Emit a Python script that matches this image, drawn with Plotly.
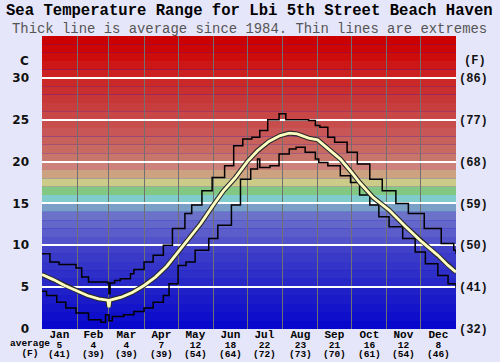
import plotly.graph_objects as go

# ---------------- data ----------------
months = ["Jan", "Feb", "Mar", "Apr", "May", "Jun", "Jul", "Aug", "Sep", "Oct", "Nov", "Dec"]
month_days = [31, 28, 31, 30, 31, 30, 31, 31, 30, 31, 30, 31]
month_avg_c = ["5", "4", "4", "7", "12", "18", "22", "23", "21", "16", "12", "8"]
month_avg_f = ["(41)", "(39)", "(39)", "(39)", "(54)", "(64)", "(72)", "(73)", "(70)", "(61)", "(54)", "(46)"]

c_ticks = [0, 5, 10, 15, 20, 25, 30]
f_ticks = ["(32)", "(41)", "(50)", "(59)", "(68)", "(77)", "(86)"]

avg_day = [0, 10, 20, 31, 40, 50, 58, 59, 60, 70, 80, 90, 100, 110, 120, 130, 140, 151, 160, 170,
           181, 190, 200, 210, 218, 225, 235, 243, 250, 263, 273, 280, 292, 306, 320, 335, 349, 358, 365]
avg_temp = [6.5, 5.9, 5.2, 4.5, 4.0, 3.6, 3.45, 2.6, 3.45, 3.8, 4.4, 5.2, 6.2, 7.5, 9.2, 10.9, 12.6, 14.8, 16.5, 18.0,
            20.0, 21.3, 22.4, 23.1, 23.4, 23.3, 22.8, 22.6, 21.8, 20.3, 18.7, 17.5, 15.7, 14.2, 12.3, 10.4, 8.8, 7.6, 6.8]

max_day = [0, 7, 15, 30, 35, 41, 52, 58, 59, 60, 64, 69, 78, 81, 90, 98, 107, 115, 126, 132, 141, 150, 161,
           169, 177, 185, 192, 199, 209, 215, 235, 241, 245, 252, 258, 269, 278, 289, 300, 312, 323, 337, 352, 363, 365]
max_temp = [9.0, 8.0, 7.7, 7.3, 6.2, 5.6, 5.6, 5.5, 4.2, 5.5, 5.8, 6.0, 6.6, 7.1, 8.0, 8.8, 10.0, 12.0, 13.8, 14.8, 16.5, 18.1, 19.5,
            21.9, 22.7, 22.9, 23.7, 25.0, 25.7, 25.0, 24.9, 24.3, 24.1, 22.9, 22.3, 21.1, 19.7, 17.9, 16.5, 15.0, 13.8, 12.0, 10.2, 9.4, 9.0]

min_day = [0, 4, 13, 21, 30, 41, 52, 56, 59, 62, 72, 81, 90, 98, 107, 112, 120, 127, 135, 147, 155, 167, 175,
           184, 190, 192, 201, 209, 218, 224, 232, 241, 244, 252, 263, 272, 280, 289, 297, 306, 318, 329, 338, 349, 358, 365]
min_temp = [4.5, 4.0, 3.2, 2.5, 1.9, 1.1, 0.8, 1.7, 1.0, 1.5, 1.7, 2.1, 2.5, 3.2, 4.0, 5.4, 7.6, 8.0, 9.4, 10.8, 12.4, 14.8, 17.9,
            19.1, 20.3, 19.3, 19.5, 20.9, 21.5, 21.7, 21.1, 20.3, 19.9, 19.5, 18.3, 17.5, 16.0, 14.8, 13.4, 12.2, 10.8, 9.2, 7.8, 6.4, 5.4, 4.9]

# one background colour per 1 degree C band (0-1, 1-2, ...)
band_colors = [
    "rgb(8,8,205)", "rgb(14,14,203)", "rgb(20,20,202)", "rgb(26,26,201)", "rgb(32,32,200)",
    "rgb(40,40,200)", "rgb(46,46,200)", "rgb(52,52,200)", "rgb(58,58,200)", "rgb(64,64,200)",
    "rgb(82,82,202)", "rgb(92,92,202)", "rgb(100,102,202)", "rgb(108,114,202)", "rgb(122,160,200)",
    "rgb(128,204,204)", "rgb(130,200,130)", "rgb(204,204,136)", "rgb(204,162,128)", "rgb(204,130,122)",
    "rgb(200,118,108)", "rgb(200,106,98)", "rgb(200,96,92)", "rgb(200,86,86)", "rgb(200,78,78)",
    "rgb(200,70,70)", "rgb(200,62,62)", "rgb(200,55,55)", "rgb(202,47,47)", "rgb(203,40,40)",
    "rgb(205,32,32)", "rgb(205,22,22)", "rgb(205,12,12)", "rgb(205,5,5)", "rgb(204,0,0)",
]

# ---------------- figure ----------------
year_len = sum(month_days)
bounds = [0]
for d in month_days:
    bounds.append(bounds[-1] + d)
mids = [(bounds[i] + bounds[i + 1]) / 2 for i in range(12)]

fig = go.Figure()

fig.add_trace(go.Scatter(x=max_day, y=max_temp, mode="lines", line=dict(color="black", width=1.5, shape="hv"),
                         hoverinfo="skip", showlegend=False))
fig.add_trace(go.Scatter(x=min_day, y=min_temp, mode="lines", line=dict(color="black", width=1.5, shape="hv"),
                         hoverinfo="skip", showlegend=False))
fig.add_trace(go.Scatter(x=avg_day, y=avg_temp, mode="lines", line=dict(color="#2a2a2a", width=5),
                         hoverinfo="skip", showlegend=False))
fig.add_trace(go.Scatter(x=avg_day, y=avg_temp, mode="lines", line=dict(color="#FFFFC2", width=2.8),
                         hoverinfo="skip", showlegend=False))
# trace to carry the right (F) axis
fig.add_trace(go.Scatter(x=[0], y=[0], yaxis="y2", mode="markers", marker=dict(opacity=0),
                         hoverinfo="skip", showlegend=False))

shapes = []
for i, col in enumerate(band_colors):
    shapes.append(dict(type="rect", xref="x", yref="y", x0=0, x1=year_len, y0=i, y1=i + 1,
                       fillcolor=col, line=dict(width=0), layer="below"))

mono = "Liberation Mono, Courier New, monospace"


def sp(text, size):
    return "<span style='font-size:%spx'><b>%s</b></span>" % (size, text)


annotations = []
for i in range(12):
    txt = sp(months[i], 11) + "<br>" + sp(month_avg_c[i], 9.5) + "<br>" + sp(month_avg_f[i], 9.5)
    annotations.append(dict(x=mids[i], y=0, xref="x", yref="paper", text=txt,
                            showarrow=False, xanchor="center", yanchor="middle", yshift=-15,
                            font=dict(family=mono, size=7.4, color="black")))

annotations += [
    dict(x=-0.0295, y=0, xref="paper", yref="paper",
         text=sp("average", 9.5) + "<br>" + sp("(F)", 9.5), showarrow=False,
         xanchor="center", yanchor="middle", yshift=-19.5, font=dict(family=mono, size=7.4, color="black")),
    dict(x=-0.043, y=32, xref="paper", yref="y", text="<b>C</b>", showarrow=False, xanchor="center",
         font=dict(family="DejaVu Sans", size=12, color="#111")),
    dict(x=1.046, y=32, xref="paper", yref="y", text="<b>(F)</b>", showarrow=False, xanchor="center",
         font=dict(family=mono, size=12, color="#111")),
    dict(x=0.5, y=1, xref="paper", yref="paper", text="<b>Sea Temperature Range for Lbi 5th Street Beach Haven</b>",
         showarrow=False, xanchor="center", yanchor="middle", yshift=25,
         font=dict(family=mono, size=15.6, color="black")),
    dict(x=0.5, y=1, xref="paper", yref="paper", text="Thick line is average since 1984. Thin lines are extremes",
         showarrow=False, xanchor="center", yanchor="middle", yshift=7.5,
         font=dict(family=mono, size=13.9, color="#555")),
]

fig.update_layout(
    width=500, height=362,
    margin=dict(l=35, r=38, t=36, b=33),
    paper_bgcolor="#E6E6FA",
    plot_bgcolor="#1010c8",
    shapes=shapes,
    annotations=annotations,
    xaxis=dict(range=[0, year_len], showticklabels=False, ticks="", showgrid=False, zeroline=False,
               tickvals=mids,
               minor=dict(tickvals=bounds, showgrid=True, gridcolor="#707070", gridwidth=1, ticks="")),
    yaxis=dict(range=[0, 35], tickvals=c_ticks, ticktext=[f"<b>{v}</b>" for v in c_ticks],
               showgrid=True, gridcolor="white", gridwidth=2, zeroline=False, ticks="",
               ticklabelstandoff=12, tickfont=dict(family="DejaVu Sans", size=12, color="#111")),
    yaxis2=dict(range=[0, 35], overlaying="y", side="right", tickvals=c_ticks,
                ticktext=[f"<b>{t}</b>" for t in f_ticks], showgrid=False, zeroline=False, ticks="",
                ticklabelstandoff=2, tickfont=dict(family=mono, size=12, color="#111")),
)

fig.write_html("out.html", config={"displayModeBar": False},
               post_script="document.body.style.margin='0';document.body.style.overflow='hidden';")
